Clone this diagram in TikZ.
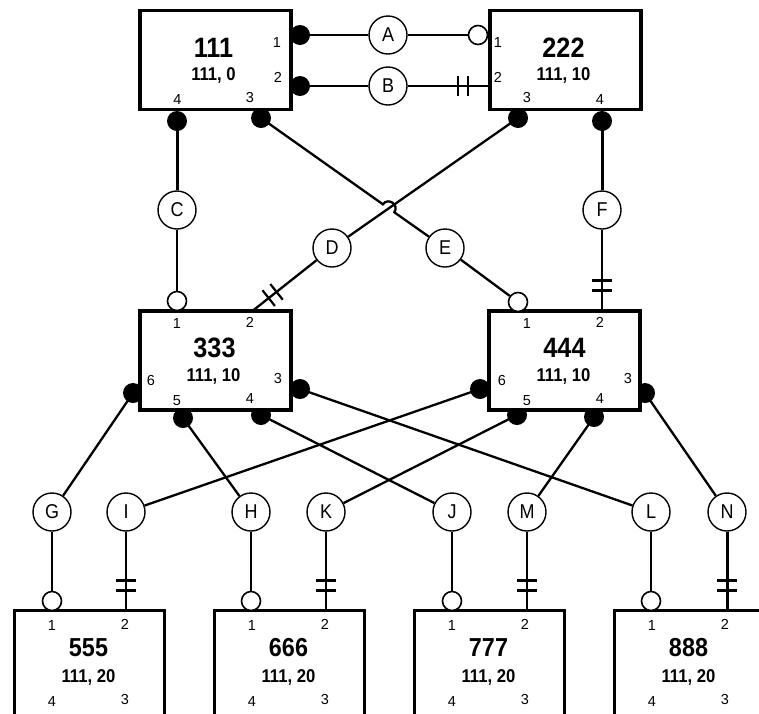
\documentclass[tikz,border=0pt]{standalone}
\usepackage{fontspec}
\setmainfont{Liberation Sans}
\newfontfamily\narrowfont[FakeStretch=0.9]{Liberation Sans}
\usetikzlibrary{calc}
\newcommand\mybars[2]{%
  \path ($(#1)!20pt!(#2)$) coordinate (bpa) ($(#1)!30pt!(#2)$) coordinate (bpb);
  \draw[barline] ($(bpa)!10pt!90:(#2)$) -- ($(bpa)!10pt!-90:(#2)$);
  \draw[barline] ($(bpb)!10pt!90:(#2)$) -- ($(bpb)!10pt!-90:(#2)$);}
\begin{document}
\begin{tikzpicture}[x=1pt,y=-1pt,
  ebox/.style={draw, line width=3.5pt, fill=white, minimum width=151pt, minimum height=99pt, inner sep=0pt},
  bbox/.style={ebox, minimum width=150pt, minimum height=120pt},
  lab/.style={circle, draw, line width=1.4pt, fill=white, minimum size=38pt, inner sep=0pt, font=\narrowfont\fontsize{20}{20}\selectfont},
  dot/.style={circle, fill=black, minimum size=20pt, inner sep=0pt},
  ocirc/.style={circle, draw, line width=1.6pt, fill=white, minimum size=19pt, inner sep=0pt},
  ttl/.style={inner sep=0pt, font=\narrowfont\fontsize{28}{28}\selectfont\bfseries},
  bttl/.style={inner sep=0pt, font=\narrowfont\fontsize{26}{26}\selectfont\bfseries},
  sub/.style={inner sep=0pt, font=\narrowfont\fontsize{18.5}{18.5}\selectfont\bfseries},
  port/.style={inner sep=0pt, font=\fontsize{14.5}{14.5}\selectfont},
  conn/.style={line width=2.3pt},
  tconn/.style={line width=3pt},
  barline/.style={line width=2.2pt}]
\useasboundingbox (0,0) rectangle (759,713);
\clip (0,0) rectangle (759,713);

% ---- filled port dots
\node[dot] (d111p1) at (300,35) {};
\node[dot] (d111p2) at (300,86) {};
\node[dot] (d111p4) at (177,121) {};
\node[dot] (d111p3) at (261,118) {};
\node[dot] (d222p3) at (518,118) {};
\node[dot] (d222p4) at (602,121) {};
\node[dot] (d333p6) at (133,393) {};
\node[dot] (d333p5) at (183,418) {};
\node[dot] (d333p4) at (261,415) {};
\node[dot] (d333p3) at (300,389) {};
\node[dot] (d444p6) at (480,389) {};
\node[dot] (d444p5) at (517,415) {};
\node[dot] (d444p4) at (594,417) {};
\node[dot] (d444p3) at (645,393) {};

% ---- boxes
\node[ebox] (b111) at (215.5,60) {};
\node[ebox] (b222) at (565.5,60) {};
\node[ebox] (b333) at (215.5,360.5) {};
\node[ebox] (b444) at (564.5,360.5) {};

% ---- texts of top boxes
\node[ttl] (t111) at (213.5,47.5) {111};
\node[sub] (s111) at (213.5,75) {111, 0};
\node[port] at (277,43) {1};
\node[port] at (278,77) {2};
\node[port] at (177.5,100) {4};
\node[port] at (250,98) {3};

\node[ttl] (t222) at (563.5,47.5) {222};
\node[sub] (s222) at (563.5,75) {111, 10};
\node[port] at (498,43) {1};
\node[port] at (498,77) {2};
\node[port] at (527,98) {3};
\node[port] at (600,100) {4};

% ---- texts of middle boxes
\node[ttl] (t333) at (214.5,348) {333};
\node[sub] (s333) at (213.5,376) {111, 10};
\node[port] at (177,324) {1};
\node[port] at (250,322) {2};
\node[port] at (151,380) {6};
\node[port] at (278,378) {3};
\node[port] at (177,401) {5};
\node[port] at (250,399) {4};

\node[ttl] (t444) at (564.5,348) {444};
\node[sub] (s444) at (563.5,376) {111, 10};
\node[port] at (527,324) {1};
\node[port] at (600,322) {2};
\node[port] at (502,380) {6};
\node[port] at (628,378) {3};
\node[port] at (527,401) {5};
\node[port] at (600,399) {4};

% ---- bottom boxes
\foreach \n/\L in {555/14.5, 666/214.5, 777/414.5, 888/614.5}{
  \node[bbox] (b\n) at (\L+75,670.5) {};
  \node[bttl] (t\n) at (\L+74,647.5) {\n};
  \node[sub] (s\n) at (\L+74,677) {111, 20};
  \node[port] at (\L+37.5,625) {1};
  \node[port] at (\L+110.5,624) {2};
  \node[port] at (\L+37.5,701) {4};
  \node[port] at (\L+110.5,699) {3};
}

% ---- relation label circles
\node[lab] (A) at (388,35) {A};
\node[lab] (B) at (388,86) {B};
\node[lab] (C) at (177,210) {C};
\node[lab] (D) at (332,248) {D};
\node[lab] (E) at (445,248) {E};
\node[lab] (F) at (602,210) {F};
\node[lab] (G) at (52,512) {G};
\node[lab] (I) at (126,512) {I};
\node[lab] (H) at (251,512) {H};
\node[lab] (K) at (326,512) {K};
\node[lab] (J) at (452,512) {J};
\node[lab] (M) at (527,512) {M};
\node[lab] (L) at (651,512) {L};
\node[lab] (N) at (727,512) {N};

% ---- open circles
\node[ocirc] (oA) at (478,35) {};
\node[ocirc] (oC) at (177,301) {};
\node[ocirc] (oE) at (518,302) {};
\node[ocirc] (oG) at (52,601) {};
\node[ocirc] (oH) at (251,601) {};
\node[ocirc] (oJ) at (452,601) {};
\node[ocirc] (oL) at (651,601) {};

% ---- bar ends
\coordinate (eB) at (488,86);
\coordinate (eD) at (253,310.5);
\coordinate (eF) at (602,310.5);
\coordinate (eI) at (126,610.5);
\coordinate (eK) at (326,610.5);
\coordinate (eM) at (527,610.5);
\coordinate (eN) at (727,610.5);

% ---- hop of E over D
\coordinate (hop1) at (382.9,204.3);
\coordinate (hop2) at (394.3,212.3);
\coordinate (hc1) at (388.1,196.9);
\coordinate (hc2) at (399.5,204.9);

% ---- connectors
\draw[conn] (d111p1.center) -- (A);
\draw[conn] (A) -- (oA);
\draw[conn] (d111p2.center) -- (B);
\draw[conn] (B) -- (eB);
\draw[tconn] (d111p4.center) -- (C);
\draw[conn] (C) -- (oC);
\draw[conn] (d222p3.center) -- (D);
\draw[conn] (D) -- (eD);
\draw[conn] (d111p3.center) -- (hop1) .. controls (hc1) and (hc2) .. (hop2) -- (E);
\draw[conn] (E) -- (oE);
\draw[tconn] (d222p4.center) -- (F);
\draw[conn] (F) -- (eF);

\draw[conn] (d333p6.center) -- (G);
\draw[conn] (d444p6.center) -- (I);
\draw[conn] (d333p5.center) -- (H);
\draw[conn] (d444p5.center) -- (K);
\draw[conn] (d333p4.center) -- (J);
\draw[conn] (d444p4.center) -- (M);
\draw[conn] (d333p3.center) -- (L);
\draw[conn] (d444p3.center) -- (N);

\draw[conn] (G) -- (oG);
\draw[conn] (I) -- (eI);
\draw[conn] (H) -- (oH);
\draw[conn] (K) -- (eK);
\draw[conn] (J) -- (oJ);
\draw[conn] (M) -- (eM);
\draw[conn] (L) -- (oL);
\draw[tconn] (N) -- (eN);

% ---- double bars
\mybars{eB}{B}
\mybars{eD}{D}
\mybars{eF}{F}
\mybars{eI}{I}
\mybars{eK}{K}
\mybars{eM}{M}
\mybars{eN}{N}
\end{tikzpicture}
\end{document}
